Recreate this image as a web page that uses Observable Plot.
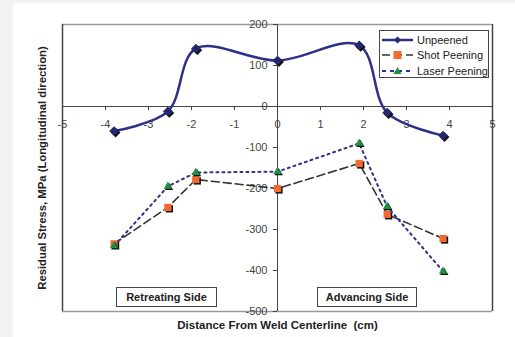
<!DOCTYPE html>
<html>
<head>
<meta charset="utf-8">
<script src="https://cdn.jsdelivr.net/npm/d3@7"></script>
<script src="https://cdn.jsdelivr.net/npm/@observablehq/plot@0.6"></script>
<style>
  body { margin: 0; background: #f2f2f2; font-family: "Liberation Sans", Arial, sans-serif; }
  #wrap { position: relative; width: 515px; height: 337px; overflow: hidden; }
  #white { position: absolute; left: 13px; top: 3px; right: 0; bottom: 0; background: #fff; }
  #chart { position: absolute; left: 0; top: 0; }
  #chart svg { background: transparent; }
  .legend { position: absolute; left: 379px; top: 30px; width: 108px; height: 46px; border: 1px solid #444; background: #fff; font-size: 11px; color: #222; }
  .legend .row { position: absolute; left: 1px; height: 12px; display: flex; align-items: center; }
  .legend .row span { margin-left: 3px; white-space: nowrap; }
  .side { position: absolute; top: 287px; height: 18px; border: 1px solid #444; background: #fff; font-size: 11px; font-weight: bold; color: #222; text-align: center; line-height: 18px; }
</style>
</head>
<body>
<div id="wrap">
  <div id="white"></div>
  <div id="chart"></div>
</div>
<script>
const xPos = [-3.8, -2.55, -1.9, 0, 1.9, 2.55, 3.85];
const unpeened = [-60, -12, 141, 112, 149, -15, -71];
const shotPeening = [-335, -246, -178, -200, -139, -263, -322];
const laserPeening = [-340, -195, -161, -159, -90, -244, -402];
const xTicks = [-5, -4, -3, -2, -1, 0, 1, 2, 3, 4, 5];
const yTicks = [200, 100, 0, -100, -200, -300, -400, -500];
const seriesNames = ["Unpeened", "Shot Peening", "Laser Peening"];
const sideLabels = ["Retreating Side", "Advancing Side"];

const navy = "#2e3088";
const navyDark = "#25286c";
const orange = "#f26a2e";
const green = "#1f8f45";

const rows = (vals) => xPos.map((x, i) => ({x, y: vals[i]}));
const U = rows(unpeened), S = rows(shotPeening), L = rows(laserPeening);

const chart = Plot.plot({
  width: 515,
  height: 337,
  marginLeft: 62,
  marginRight: 23,
  marginTop: 24,
  marginBottom: 26,
  style: {background: "transparent", fontFamily: "Liberation Sans, Arial, sans-serif", fontSize: "11px"},
  x: {domain: [-5, 5], axis: null},
  y: {domain: [-500, 200], axis: null},
  marks: [
    // plot box
    Plot.ruleY([200, -500], {stroke: "#999", strokeWidth: 1.5}),
    Plot.ruleX([-5, 5], {stroke: "#444", strokeWidth: 1.5}),
    // zero axes
    Plot.ruleY([0], {stroke: "#444", strokeWidth: 1}),
    Plot.ruleX([0], {stroke: "#444", strokeWidth: 1}),
    // ticks
    Plot.ruleX(xTicks, {x: d => d, y1: 0, y2: -10, stroke: "#444"}),
    Plot.ruleY(yTicks, {y: d => d, x1: 0, x2: -0.095, stroke: "#444"}),
    // tick labels
    Plot.text(xTicks, {x: d => d, y: 0, dy: 18, text: d => String(d), fill: "#444", fontSize: 11}),
    Plot.text(yTicks, {x: 0, y: d => d, dx: -10, text: d => String(d), textAnchor: "end", fill: "#444", fontSize: 11}),
    // axis titles
    Plot.text(["Residual Stress, MPa (Longitudinal direction)"], {frameAnchor: "left", dx: -20, rotate: -90, textAnchor: "middle", text: d => d, fontWeight: "bold", fontSize: 11.3, fill: "#222"}),
    Plot.text(["Distance From Weld Centerline  (cm)"], {frameAnchor: "bottom", dy: 17, text: d => d, fontWeight: "bold", fontSize: 11.5, fill: "#222"}),
    // Unpeened
    Plot.line(U, {x: "x", y: "y", stroke: navy, strokeWidth: 2.5, curve: "catmull-rom"}),
    Plot.dot(U, {x: "x", y: "y", symbol: "diamond2", r: 4.4, fill: "#111", stroke: "none", dx: 1.5, dy: 1.5}),
    Plot.dot(U, {x: "x", y: "y", symbol: "diamond2", r: 4.4, fill: navyDark, stroke: "none"}),
    // Shot peening
    Plot.line(S, {x: "x", y: "y", stroke: "#333", strokeWidth: 1.6, strokeDasharray: "8,4"}),
    Plot.dot(S, {x: "x", y: "y", symbol: "square2", r: 4.6, fill: "#111", stroke: "none", dx: 1.5, dy: 1.5}),
    Plot.dot(S, {x: "x", y: "y", symbol: "square2", r: 4.6, fill: orange, stroke: "none"}),
    // Laser peening
    Plot.line(L, {x: "x", y: "y", stroke: navy, strokeWidth: 2, strokeDasharray: "2,4"}),
    Plot.dot(L, {x: "x", y: "y", symbol: "triangle2", r: 4.0, fill: "#111", stroke: "none", dx: 1.2, dy: 1.2}),
    Plot.dot(L, {x: "x", y: "y", symbol: "triangle2", r: 4.0, fill: green, stroke: "none"})
  ]
});
document.getElementById("chart").appendChild(chart);

// Legend
const wrap = document.getElementById("wrap");
const legend = document.createElement("div");
legend.className = "legend";
const samples = [
  `<line x1="1" y1="5" x2="32" y2="5" stroke="${navy}" stroke-width="2.5"/><path d="M16.5,1.5 L20,5 L16.5,8.5 L13,5Z" fill="${navyDark}"/>`,
  `<line x1="1" y1="5" x2="32" y2="5" stroke="#333" stroke-width="1.6" stroke-dasharray="8,4"/><rect x="12.5" y="1" width="8" height="8" fill="${orange}"/>`,
  `<line x1="1" y1="5" x2="32" y2="5" stroke="${navy}" stroke-width="2" stroke-dasharray="4,4"/><path d="M16.5,1 L20.5,8 L12.5,8Z" fill="${green}"/>`
];
const rowTops = [3, 18, 34];
seriesNames.forEach((name, i) => {
  const r = document.createElement("div");
  r.className = "row";
  r.style.top = rowTops[i] + "px";
  r.innerHTML = `<svg width="33" height="10">${samples[i]}</svg><span>${name}</span>`;
  legend.appendChild(r);
});
wrap.appendChild(legend);

// Side label boxes
const sideLefts = [116, 317];
const sideWidths = [99, 98];
sideLabels.forEach((t, i) => {
  const b = document.createElement("div");
  b.className = "side";
  b.style.left = sideLefts[i] + "px";
  b.style.width = sideWidths[i] + "px";
  b.textContent = t;
  wrap.appendChild(b);
});
</script>
</body>
</html>
